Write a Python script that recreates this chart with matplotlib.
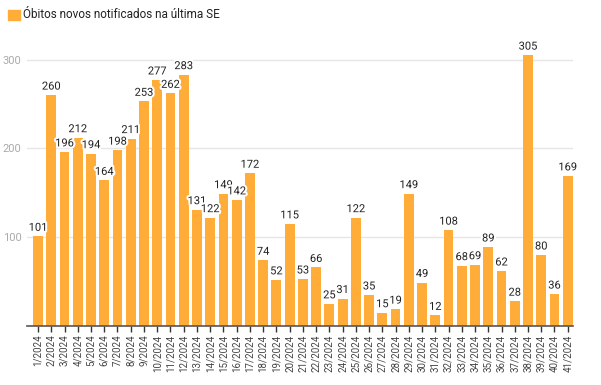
import matplotlib.pyplot as plt
import matplotlib.patheffects as pe
from matplotlib.patches import Rectangle

plt.rcParams['font.family'] = ['Roboto', 'DejaVu Sans']

weeks = [f'{i}/2024' for i in range(1, 42)]
deaths = [101, 260, 196, 212, 194, 164, 198, 211, 253, 277, 262, 283,
          131, 122, 149, 142, 172, 74, 52, 115, 53, 66, 25, 31, 122,
          35, 15, 19, 149, 49, 12, 108, 68, 69, 89, 62, 28, 305, 80, 36, 169]
legend_label = 'Óbitos novos notificados na última SE'

bar_color = '#FFAC38'

fig = plt.figure(figsize=(6.01, 3.85), dpi=100)
ax = fig.add_axes([0.045, 0.153, 0.908, 0.743])

x = list(range(len(weeks)))
ax.bar(x, deaths, width=0.74, color=bar_color, zorder=2)

# value labels with white halo
for xi, v in zip(x, deaths):
    ax.text(xi, v + 4, str(v), ha='center', va='bottom', fontsize=8,
            color='#222222', zorder=3,
            path_effects=[pe.withStroke(linewidth=3, foreground='white')])

ax.set_xlim(-0.83, 40.38)
ax.set_ylim(0, 322)
ax.set_yticks([100, 200, 300])
ax.set_yticklabels(['100', '200', '300'])
ax.tick_params(axis='y', length=0, labelsize=8, labelcolor='#aaaaaa', pad=4)
ax.yaxis.grid(True, color='#e6e6e6', linewidth=1, zorder=0)

ax.set_xticks(x)
ax.set_xticklabels(weeks, rotation=90, fontsize=7, color='#444444')
ax.tick_params(axis='x', length=4, width=1, color='#333333', pad=2)

for s in ['top', 'right', 'left']:
    ax.spines[s].set_visible(False)
ax.spines['bottom'].set_color('#555555')
ax.spines['bottom'].set_linewidth(1.2)
ax.spines['bottom'].set_zorder(4)

# legend at top left
fig.patches.append(Rectangle((8 / 601, 1 - 20 / 385), 12 / 601, 10 / 385,
                             transform=fig.transFigure, color=bar_color))
fig.text(23 / 601, 1 - 15 / 385, legend_label, fontsize=8.5,
         color='#222222', va='center', ha='left')

fig.savefig('out.png', dpi=100)
